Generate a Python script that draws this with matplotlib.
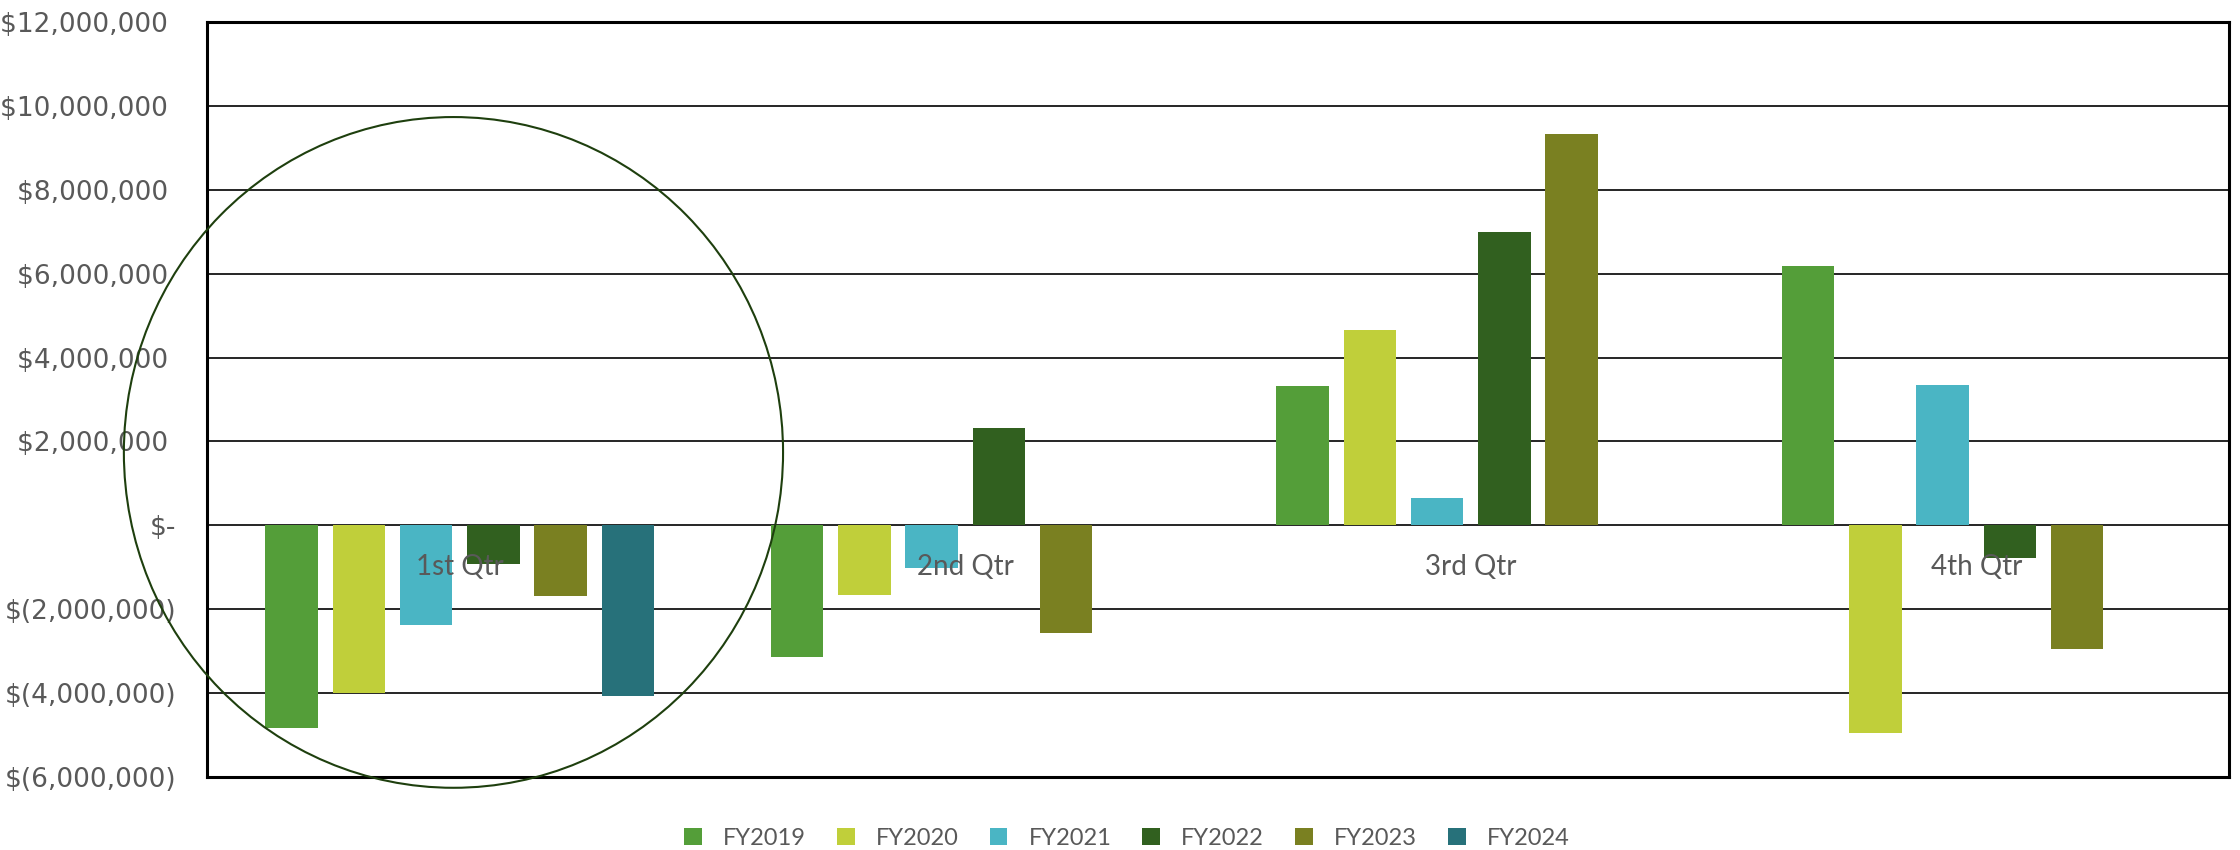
import matplotlib
matplotlib.use("Agg")
import matplotlib.pyplot as plt
from matplotlib.patches import Ellipse
from matplotlib.ticker import FuncFormatter, MultipleLocator
import numpy as np

quarters = ["1st Qtr", "2nd Qtr", "3rd Qtr", "4th Qtr"]
years = ["FY2019", "FY2020", "FY2021", "FY2022", "FY2023", "FY2024"]

fy2019 = [-4830000, -3120000, 3320000, 6190000]
fy2020 = [-4000000, -1660000, 4650000, -4950000]
fy2021 = [-2380000, -1020000, 650000, 3340000]
fy2022 = [-920000, 2310000, 6980000, -770000]
fy2023 = [-1670000, -2550000, 9330000, -2930000]
fy2024 = [-4050000, 0, 0, 0]

series = [fy2019, fy2020, fy2021, fy2022, fy2023, fy2024]
colors = ["#549E39", "#C0CF3A", "#4AB5C4", "#31601F", "#7A8021", "#27717A"]

fig = plt.figure(figsize=(22.4, 8.5), dpi=100)
ax = fig.add_axes([0.0924, 0.0853, 0.9951 - 0.0924, 0.9747 - 0.0853])

x = np.arange(len(quarters))
pitch = 0.133
width = 0.104
for i, (vals, col, name) in enumerate(zip(series, colors, years)):
    ax.bar(x + (i - 2.5) * pitch, vals, width=width, color=col, label=name,
           zorder=2, linewidth=0)

ax.set_xlim(-0.5, 3.5)
ax.set_ylim(-6000000, 12000000)
ax.yaxis.set_major_locator(MultipleLocator(2000000))


def money(v, pos):
    if abs(v) < 1:
        return "$-"
    if v < 0:
        return "$({:,.0f})".format(-v)
    return "${:,.0f} ".format(v)


ax.yaxis.set_major_formatter(FuncFormatter(money))
ax.tick_params(axis="y", length=0, pad=22, labelsize=19, labelcolor="#595959")
ax.tick_params(axis="x", length=0, labelbottom=False)
ax.grid(axis="y", color="black", linewidth=1.2, zorder=1)
ax.set_axisbelow(True)
for s in ax.spines.values():
    s.set_linewidth(2.2)
    s.set_color("black")

for xi, q in zip(x, quarters):
    ax.annotate(q, (xi, 0), xytext=(0, -30), textcoords="offset points",
                ha="center", va="center", fontsize=20, family="Lato",
                color="#595959", zorder=5)

ring = Ellipse((-0.0124, 1740000), width=1.304, height=15970000,
               fill=False, edgecolor="#1E3F0E", linewidth=1.5,
               clip_on=False, zorder=6)
ax.add_patch(ring)

fig.legend(loc="center", bbox_to_anchor=(0.503, 0.0141), ncol=6,
           frameon=False, prop={"family": "Lato", "size": 17},
           labelcolor="#595959", handlelength=0.76, handleheight=0.76,
           handletextpad=0.89, columnspacing=1.31, borderpad=0, borderaxespad=0)

fig.savefig("out.png", dpi=100)
